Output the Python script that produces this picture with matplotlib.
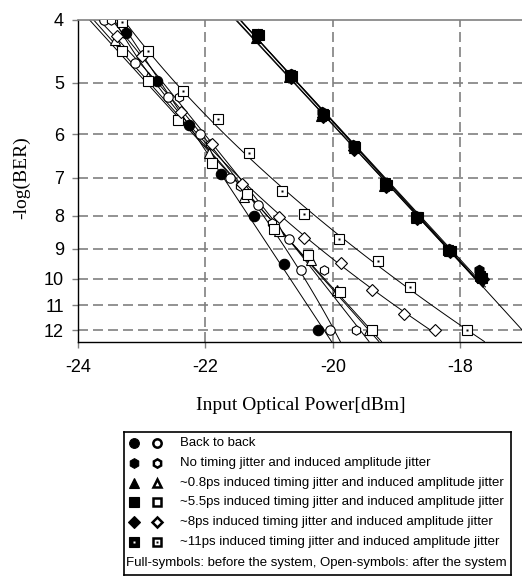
import numpy as np
import matplotlib.pyplot as plt
from matplotlib.ticker import FixedLocator, FixedFormatter, NullLocator

# ---- data: x = input optical power [dBm], y = -log(BER)
# open symbols: after the system
b2b_open_x = [-23.59, -23.10, -22.58, -22.09, -21.61, -21.18, -20.69, -20.50, -20.05]
b2b_open_y = [4.00, 4.66, 5.25, 6.00, 7.00, 7.70, 8.70, 9.70, 12.0]
nojit_open_x = [-23.48, -23.00, -22.41, -21.93, -21.45, -20.95, -20.14, -19.64]
nojit_open_y = [4.00, 4.55, 5.25, 6.20, 7.20, 8.20, 9.69, 12.0]
j08_open_x = [-23.42, -22.90, -22.43, -21.95, -21.40, -20.85, -20.35, -19.94, -19.43]
j08_open_y = [4.30, 4.90, 5.66, 6.40, 7.50, 8.45, 9.35, 10.4, 12.0]
j55_open_x = [-23.31, -22.90, -22.43, -21.89, -21.35, -20.93, -20.39, -19.89, -19.39]
j55_open_y = [4.47, 4.97, 5.70, 6.64, 7.40, 8.39, 9.20, 10.5, 12.0]
j8_open_x = [-23.39, -23.00, -22.39, -21.89, -21.42, -20.85, -20.46, -19.87, -19.39, -18.88, -18.39]
j8_open_y = [4.23, 4.54, 5.55, 6.20, 7.14, 8.04, 8.65, 9.47, 10.4, 11.35, 12.0]
j11_open_x = [-23.31, -22.90, -22.35, -21.80, -21.32, -20.79, -20.46, -19.91, -19.29, -18.79, -17.89]
j11_open_y = [4.03, 4.46, 5.14, 5.69, 6.41, 7.34, 7.96, 8.70, 9.40, 10.3, 12.0]

# full symbols: before the system (back to back sits on the left)
b2b_full_x = [-23.24, -22.76, -22.25, -21.75, -21.24, -20.76, -20.24]
b2b_full_y = [4.19, 4.96, 5.80, 6.90, 8.00, 9.50, 12.0]
nojit_full_x = [-21.17, -20.66, -20.17, -19.68, -19.17, -18.69, -18.17, -17.70]
nojit_full_y = [4.20, 4.85, 5.55, 6.22, 7.15, 8.02, 9.02, 9.69]
j08_full_x = [-21.20, -20.68, -20.18, -19.66, -19.19, -18.70, -18.18, -17.67]
j08_full_y = [4.26, 4.90, 5.62, 6.30, 7.20, 8.08, 9.08, 9.95]
j55_full_x = [-21.16, -20.64, -20.14, -19.65, -19.15, -18.67, -18.15, -17.66]
j55_full_y = [4.22, 4.88, 5.60, 6.28, 7.17, 8.05, 9.06, 9.98]
j8_full_x = [-21.18, -20.66, -20.16, -19.67, -19.16, -18.68, -18.16, -17.64]
j8_full_y = [4.24, 4.92, 5.65, 6.33, 7.22, 8.10, 9.10, 10.0]
j11_full_x = [-21.19, -20.67, -20.15, -19.66, -19.18, -18.70, -18.19, -17.69]
j11_full_y = [4.21, 4.86, 5.58, 6.25, 7.13, 8.03, 9.04, 9.92]

y_ticks = [4, 5, 6, 7, 8, 9, 10, 11, 12]
x_ticks = [-24, -22, -20, -18]

legend_labels = [
    "Back to back",
    "No timing jitter and induced amplitude jitter",
    "~0.8ps induced timing jitter and induced amplitude jitter",
    "~5.5ps induced timing jitter and induced amplitude jitter",
    "~8ps induced timing jitter and induced amplitude jitter",
    "~11ps induced timing jitter and induced amplitude jitter",
]
legend_note = "Full-symbols: before the system, Open-symbols: after the system"

# series: x, y, marker, filled, fit degree, end of fit line
series = [
    (b2b_full_x, b2b_full_y, 'o', True, 1, 12.5),
    (b2b_open_x, b2b_open_y, 'o', False, 2, 12.5),
    (nojit_open_x, nojit_open_y, 'h', False, 2, 12.5),
    (j08_open_x, j08_open_y, '^', False, 1, 12.5),
    (j55_open_x, j55_open_y, 's', False, 1, 12.5),
    (j8_open_x, j8_open_y, 'D', False, 2, 12.0),
    (j11_open_x, j11_open_y, 'sq', False, 2, 12.5),
    (nojit_full_x, nojit_full_y, 'h', True, 1, 10.3),
    (j08_full_x, j08_full_y, '^', True, 1, 10.3),
    (j55_full_x, j55_full_y, 's', True, 1, 10.3),
    (j8_full_x, j8_full_y, 'D', True, 1, 10.3),
    (j11_full_x, j11_full_y, 'sq', True, 1, 12.5),
]

W, H = 522, 576
fig = plt.figure(figsize=(W / 100, H / 100), dpi=100)
ax = fig.add_axes([78 / W, 1 - 342 / H, 444 / W, 322 / H])

grid_col = '#808080'


def draw_marker(a, x, y, m, filled, size, mew=0.8, dot=True, z=3):
    face = 'black' if filled else 'white'
    if m == 'sq':
        a.plot(x, y, 's', ms=size, mfc=face, mec='black', mew=mew, ls='none', zorder=z)
        if dot:
            a.plot(x, y, 's', ms=size * 0.3, mfc='white' if filled else 'black',
                   mec='none', ls='none', zorder=z + 0.1)
    else:
        s = size * (0.85 if m == 'D' else 1.0)
        a.plot(x, y, m, ms=s, mfc=face, mec='black', mew=mew, ls='none', zorder=z)


for x, y, m, filled, deg, yend in series:
    x = np.array(x)
    ly = np.log10(np.array(y))
    coef = np.polyfit(ly, x, deg)
    yy = np.linspace(np.log10(4.0), np.log10(yend), 100)
    ax.plot(np.polyval(coef, yy), 10 ** yy, color='black', lw=0.7, zorder=2)
    if filled:
        draw_marker(ax, x, y, m, True, 7.5, dot=False)
    else:
        draw_marker(ax, x, y, m, False, 6.8, dot=True)

ax.set_yscale('log')
ax.set_ylim(12.52, 4.0)
ax.set_xlim(-24, -17.03)
ax.yaxis.set_major_locator(FixedLocator(y_ticks))
ax.yaxis.set_major_formatter(FixedFormatter([str(t) for t in y_ticks]))
ax.yaxis.set_minor_locator(NullLocator())
ax.set_xticks(x_ticks)
ax.set_xticklabels([str(t) for t in x_ticks])

for t in y_ticks[1:]:
    ax.axhline(t, color=grid_col, lw=1.2, ls=(0, (6, 3)), zorder=1)
for t in x_ticks[1:]:
    ax.axvline(t, color=grid_col, lw=1.2, ls=(0, (6, 3)), zorder=1)

ax.tick_params(axis='both', direction='out', length=4, width=1.0, color=grid_col,
               labelsize=13, labelfontfamily='Liberation Sans')
ax.tick_params(axis='y', pad=6)
ax.tick_params(axis='x', pad=8)
ax.spines['right'].set_visible(False)
ax.spines['top'].set_color(grid_col)
ax.spines['top'].set_linewidth(1.2)
for s in ['left', 'bottom']:
    ax.spines[s].set_linewidth(1.0)

fig.text(22 / W, 1 - 178 / H, "-log(BER)", rotation=90, ha='center', va='center',
         fontsize=14, family='Liberation Serif')
fig.text(301 / W, 1 - 405 / H, "Input Optical Power[dBm]", ha='center', va='center',
         fontsize=14, family='Liberation Serif')

# legend box drawn in its own pixel-coordinate axes
lg = fig.add_axes([124 / W, 1 / H, 387 / W, 143 / H])
lg.set_xlim(0, 387)
lg.set_ylim(143, 0)
lg.set_xticks([])
lg.set_yticks([])
for s in lg.spines.values():
    s.set_linewidth(1.2)
leg_markers = ['o', 'h', '^', 's', 'D', 'sq']
for i, (m, lab) in enumerate(zip(leg_markers, legend_labels)):
    yrow = 11 + i * 19.8
    draw_marker(lg, [10], [yrow], m, True, 7.0)
    draw_marker(lg, [33], [yrow], m, False, 6.0, mew=1.8)
    lg.text(56, yrow, lab, va='center', ha='left', fontsize=9.5, family='Liberation Sans')
lg.text(2, 131, legend_note, va='center', ha='left', fontsize=9.5, family='Liberation Sans')

fig.savefig('out.png', dpi=100)
